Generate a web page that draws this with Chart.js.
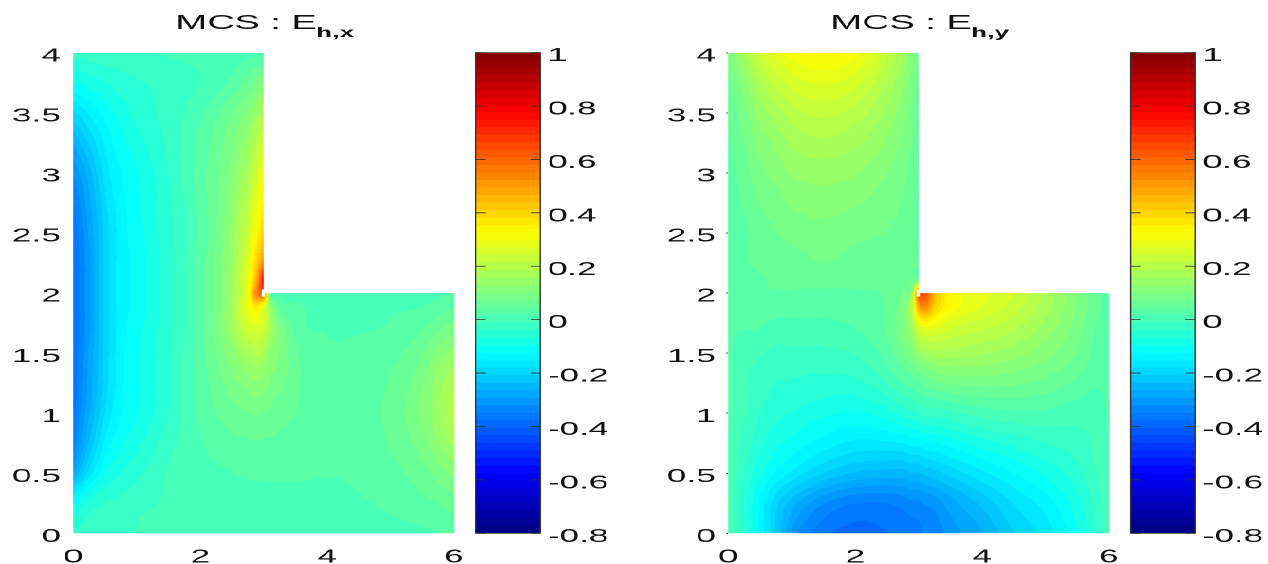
<!DOCTYPE html>
<html>
<head>
<meta charset="utf-8">
<script src="https://cdn.jsdelivr.net/npm/chart.js@4"></script>
<style>
  html, body { margin: 0; padding: 0; background: #fff; overflow: hidden; width: 1268px; height: 564px; }
  /* reference is stretched sideways, text included */
  #page { position: absolute; left: 0; top: 0; width: 668px; height: 564px; transform-origin: 0 0; transform: scale(1.8982, 1); }
  canvas { position: absolute; top: 0; }
</style>
</head>
<body>
<div id="page">
  <canvas id="ex-field" width="323" height="564" style="left:0"></canvas>
  <canvas id="ex-bar" width="323" height="564" style="left:0"></canvas>
  <canvas id="ey-field" width="323" height="564" style="left:345px"></canvas>
  <canvas id="ey-bar" width="323" height="564" style="left:345px"></canvas>
</div>
<script>
const xNodes = [0, 0.25, 0.5, 0.75, 1, 1.5, 2, 2.5, 2.75, 2.9, 3, 3.1, 3.25, 3.5, 4, 4.5, 5, 5.5, 5.75, 6];
const yNodes = [4, 3.75, 3.5, 3, 2.5, 2.25, 2.1, 2, 1.9, 1.75, 1.5, 1, 0.5, 0.25, 0];

// values, rows follow yNodes (rows above y=2 stop at x=3)
const exRows = [
  [-0.03, -0.025, -0.02, -0.02, -0.015, -0.01, -0.005, 0, 0.005, 0.008, 0.01],
  [-0.1, -0.085, -0.07, -0.055, -0.045, -0.03, -0.012, 0.025, 0.055, 0.085, 0.11],
  [-0.19, -0.15, -0.115, -0.085, -0.06, -0.03, 0.01, 0.07, 0.11, 0.15, 0.18],
  [-0.32, -0.25, -0.17, -0.125, -0.1, -0.04, 0.03, 0.11, 0.18, 0.25, 0.31],
  [-0.37, -0.29, -0.2, -0.14, -0.11, -0.05, 0.02, 0.14, 0.24, 0.34, 0.42],
  [-0.38, -0.3, -0.2, -0.14, -0.115, -0.05, 0.03, 0.15, 0.27, 0.42, 0.55],
  [-0.38, -0.3, -0.2, -0.14, -0.115, -0.05, 0.03, 0.16, 0.3, 0.5, 0.78],
  [-0.38, -0.3, -0.2, -0.14, -0.115, -0.05, 0.03, 0.16, 0.3, 0.55, 0.6, 0.04, 0.01, 0, -0.005, -0.005, 0, 0.005, 0.01, 0.015],
  [-0.38, -0.3, -0.2, -0.14, -0.115, -0.05, 0.03, 0.16, 0.3, 0.38, 0.3, 0.14, 0.04, 0.02, 0.008, 0.008, 0.012, 0.014, 0.025, 0.04],
  [-0.38, -0.3, -0.2, -0.14, -0.11, -0.05, 0.03, 0.16, 0.26, 0.28, 0.25, 0.17, 0.09, 0.032, 0.012, 0.012, 0.017, 0.035, 0.055, 0.08],
  [-0.37, -0.29, -0.2, -0.135, -0.105, -0.045, 0.03, 0.12, 0.17, 0.19, 0.17, 0.13, 0.1, 0.05, 0.022, 0.022, 0.035, 0.07, 0.11, 0.14],
  [-0.36, -0.27, -0.18, -0.125, -0.1, -0.04, 0.02, 0.06, 0.07, 0.075, 0.07, 0.065, 0.055, 0.044, 0.03, 0.032, 0.052, 0.105, 0.15, 0.2],
  [-0.27, -0.17, -0.1, -0.07, -0.05, -0.01, 0.005, 0.015, 0.02, 0.02, 0.02, 0.02, 0.02, 0.02, 0.017, 0.02, 0.035, 0.06, 0.085, 0.11],
  [-0.11, -0.06, -0.04, -0.03, -0.02, -0.01, -0.005, 0.003, 0.004, 0.005, 0.005, 0.005, 0.005, 0.005, 0.006, 0.012, 0.022, 0.035, 0.045, 0.06],
  [-0.03, -0.02, -0.02, -0.02, -0.01, -0.01, -0.005, -0.005, -0.005, -0.005, -0.005, -0.005, -0.005, -0.005, -0.005, -0.005, 0.005, 0.01, 0.015, 0.02],
];

const eyRows = [
  [0.1, 0.17, 0.24, 0.28, 0.31, 0.33, 0.31, 0.22, 0.16, 0.11, 0.08],
  [0.06, 0.12, 0.18, 0.22, 0.25, 0.27, 0.25, 0.18, 0.13, 0.09, 0.06],
  [0.05, 0.09, 0.14, 0.17, 0.2, 0.22, 0.2, 0.15, 0.11, 0.08, 0.05],
  [0.03, 0.06, 0.09, 0.11, 0.13, 0.14, 0.13, 0.1, 0.08, 0.06, 0.04],
  [0.03, 0.04, 0.06, 0.07, 0.08, 0.09, 0.08, 0.07, 0.06, 0.05, 0.04],
  [0.03, 0.04, 0.05, 0.06, 0.06, 0.07, 0.06, 0.05, 0.05, 0.05, 0.05],
  [0.03, 0.035, 0.04, 0.05, 0.05, 0.05, 0.05, 0.05, 0.055, 0.07, 0.1],
  [0.03, 0.03, 0.04, 0.04, 0.04, 0.04, 0.04, 0.05, 0.08, 0.16, 0.6, 0.65, 0.45, 0.33, 0.28, 0.24, 0.18, 0.1, 0.06, 0.03],
  [0.03, 0.03, 0.03, 0.03, 0.03, 0.03, 0.03, 0.05, 0.1, 0.22, 0.5, 0.55, 0.42, 0.33, 0.27, 0.23, 0.17, 0.1, 0.06, 0.03],
  [0.02, 0.02, 0.02, 0.01, 0.01, 0.01, 0.02, 0.05, 0.1, 0.17, 0.3, 0.33, 0.3, 0.26, 0.23, 0.2, 0.15, 0.09, 0.05, 0.03],
  [0.02, 0, -0.01, -0.02, -0.02, -0.02, -0.01, 0.03, 0.07, 0.1, 0.14, 0.16, 0.17, 0.17, 0.16, 0.14, 0.11, 0.07, 0.04, 0.02],
  [0.02, -0.01, -0.04, -0.06, -0.07, -0.09, -0.1, -0.08, -0.06, -0.05, -0.04, -0.03, -0.03, -0.02, 0, 0.01, 0.01, 0, 0, 0.02],
  [0.01, -0.04, -0.09, -0.13, -0.16, -0.21, -0.24, -0.25, -0.25, -0.24, -0.24, -0.23, -0.22, -0.2, -0.16, -0.125, -0.09, -0.05, -0.02, 0.01],
  [0.01, -0.06, -0.13, -0.2, -0.25, -0.32, -0.35, -0.35, -0.34, -0.33, -0.33, -0.32, -0.31, -0.28, -0.23, -0.18, -0.14, -0.08, -0.04, 0.01],
  [0.01, -0.05, -0.13, -0.21, -0.3, -0.37, -0.39, -0.38, -0.37, -0.365, -0.36, -0.35, -0.34, -0.31, -0.27, -0.21, -0.17, -0.1, -0.05, 0.01],
];

// L-shaped domain with the small white notch at the re-entrant corner
const domainX = [0, 6, 6, 3.02, 3.02, 2.97, 2.97, 3, 3, 0];
const domainY = [0, 0, 2, 2, 1.97, 1.97, 2.03, 2.03, 4, 4];

const xTicks = [0, 2, 4, 6];
const yTicks = [0, 0.5, 1, 1.5, 2, 2.5, 3, 3.5, 4];
const barTicks = [-0.8, -0.6, -0.4, -0.2, 0, 0.2, 0.4, 0.6, 0.8, 1];
const valueMin = -0.8;
const valueMax = 1;
const levels = 64;

const font = "'Liberation Sans', Arial, sans-serif";

function jet(i) {
  const t = (i + 0.5) / levels;
  const c = (d) => Math.round(255 * Math.max(0, Math.min(1, 1.5 - Math.abs(4 * t - d))));
  return [c(3), c(2), c(1)];
}

// cubic hermite between knots k[i], k[i+1]; get(n) may give undefined past the L edge
function hermite(k, get, i, t) {
  const f0 = get(i),
    f1 = get(i + 1);
  if (f0 === undefined || f1 === undefined) return undefined;
  const h = k[i + 1] - k[i],
    s = (f1 - f0) / h,
    fp = get(i - 1),
    fn = get(i + 2);
  let d0 = s,
    d1 = s;
  if (fp !== undefined) {
    const hp = k[i] - k[i - 1];
    d0 = (h * (f0 - fp) / hp + hp * s) / (h + hp);
  }
  if (fn !== undefined) {
    const hn = k[i + 2] - k[i + 1];
    d1 = (hn * s + h * (fn - f1) / hn) / (h + hn);
  }
  const u = t,
    u2 = u * u,
    u3 = u2 * u;
  const val =
    (2 * u3 - 3 * u2 + 1) * f0 +
    (u3 - 2 * u2 + u) * h * d0 +
    (-2 * u3 + 3 * u2) * f1 +
    (u3 - u2) * h * d1;
  // stop overshoot next to the corner spike
  const lo = Math.min(f0, f1) - 0.015,
    hi = Math.max(f0, f1) + 0.015;
  return Math.max(lo, Math.min(hi, val));
}

function valueAt(rows, x, y) {
  let i = 0;
  while (i < xNodes.length - 2 && xNodes[i + 1] < x) i++;
  let j = 0;
  while (j < yNodes.length - 2 && yNodes[j + 1] > y) j++;
  const u = (x - xNodes[i]) / (xNodes[i + 1] - xNodes[i]),
    v = (yNodes[j] - y) / (yNodes[j] - yNodes[j + 1]);
  const rowAt = (n) => {
    if (!rows[n]) return undefined;
    return hermite(xNodes, (m) => rows[n][m], i, u);
  };
  // yNodes run downwards, so flip them to keep h positive
  const neg = yNodes.map((q) => -q);
  return hermite(neg, rowAt, j, v);
}

// interpolated shading of the node values, like matlab's shading interp
const shadePlugin = {
  id: "shade",
  beforeDatasetsDraw(chart, args, opts) {
    const { ctx, chartArea: a, scales } = chart,
      ratio = chart.currentDevicePixelRatio,
      w = Math.ceil((a.right - a.left) * ratio),
      h = Math.ceil((a.bottom - a.top) * ratio),
      off = document.createElement("canvas");
    off.width = w;
    off.height = h;
    const octx = off.getContext("2d"),
      img = octx.createImageData(w, h);
    for (let py = 0; py < h; py++) {
      const y = scales.y.getValueForPixel(a.top + (py + 0.5) / ratio);
      for (let px = 0; px < w; px++) {
        const x = scales.x.getValueForPixel(a.left + (px + 0.5) / ratio),
          val = valueAt(opts.rows, x, y);
        if (val === undefined) continue;
        let idx = Math.floor(((val - valueMin) / (valueMax - valueMin)) * levels);
        idx = Math.max(0, Math.min(levels - 1, idx));
        const col = jet(idx),
          p = (py * w + px) * 4;
        img.data[p] = col[0];
        img.data[p + 1] = col[1];
        img.data[p + 2] = col[2];
        img.data[p + 3] = 255;
      }
    }
    octx.putImageData(img, 0, 0);
    ctx.save();
    ctx.beginPath();
    domainX.forEach((x, i) => {
      ctx.lineTo(scales.x.getPixelForValue(x), scales.y.getPixelForValue(domainY[i]));
    });
    ctx.closePath();
    ctx.clip();
    ctx.drawImage(off, a.left, a.top, w / ratio, h / ratio);
    ctx.restore();
  },
  afterDraw(chart, args, opts) {
    // title with the subscript, no way to do this in the title plugin
    const { ctx } = chart;
    ctx.save();
    ctx.fillStyle = "#111";
    ctx.textBaseline = "alphabetic";
    ctx.textAlign = "left";
    ctx.font = "20px " + font;
    ctx.fillText(opts.title, 92.5, 29);
    const tw = ctx.measureText(opts.title).width;
    ctx.font = "bold 14px " + font;
    ctx.fillText(opts.sub, 92.5 + tw - 0.5, 37);
    ctx.restore();
  },
};

const barFramePlugin = {
  id: "barFrame",
  afterDatasetsDraw(chart) {
    const { ctx, chartArea: a, scales } = chart;
    ctx.save();
    ctx.strokeStyle = "#333";
    ctx.lineWidth = 0.7;
    ctx.strokeRect(a.left, a.top, a.right - a.left, a.bottom - a.top);
    ctx.lineWidth = 0.8;
    barTicks.forEach((t) => {
      const py = scales.y.getPixelForValue(t);
      ctx.beginPath();
      ctx.moveTo(a.left, py);
      ctx.lineTo(a.left + 5, py);
      ctx.moveTo(a.right - 5, py);
      ctx.lineTo(a.right, py);
      ctx.stroke();
    });
    ctx.restore();
  },
};

function fieldChart(id, rows, sub, tickColor) {
  const points = [];
  rows.forEach((row, j) => {
    row.forEach((v, i) => points.push({ x: xNodes[i], y: yNodes[j], v: v }));
  });

  return new Chart(document.getElementById(id), {
    type: "scatter",
    data: { datasets: [{ data: points, pointRadius: 0, pointHoverRadius: 0 }] },
    plugins: [shadePlugin],
    options: {
      responsive: false,
      animation: false,
      devicePixelRatio: 2,
      layout: { padding: { left: 0, right: 83.8, top: 53, bottom: 0 } },
      plugins: {
        legend: { display: false },
        tooltip: { enabled: false },
        shade: { rows: rows, title: "MCS : E", sub: sub },
      },
      scales: {
        x: {
          type: "linear",
          min: 0,
          max: 6,
          afterBuildTicks: (s) => (s.ticks = xTicks.map((v) => ({ value: v }))),
          afterFit: (s) => (s.height = 30.7),
          border: { display: false },
          grid: { drawOnChartArea: false, drawTicks: false },
          ticks: { autoSkip: false, maxRotation: 0, padding: 13, color: "#111", font: { family: font, size: 18.5 } },
        },
        y: {
          type: "linear",
          min: 0,
          max: 4,
          afterBuildTicks: (s) => (s.ticks = yTicks.map((v) => ({ value: v }))),
          afterFit: (s) => (s.width = 38.6),
          border: { display: false },
          grid: { drawOnChartArea: false, tickLength: 1, tickColor: tickColor },
          ticks: {
            autoSkip: false,
            padding: 5.5,
            labelOffset: 3.5,
            color: "#111",
            font: { family: font, size: 18.5 },
            callback: (v) => String(v),
          },
        },
      },
    },
  });
}

function barChart(id) {
  const sets = [];
  for (let i = 0; i < levels; i++) {
    const c = jet(i);
    // every band starts at the bottom, the lower ones paint over it, so no seams
    sets.push({
      data: [[valueMin, valueMin + ((i + 1) * (valueMax - valueMin)) / levels]],
      backgroundColor: "rgb(" + c.join(",") + ")",
      borderWidth: 0,
      borderSkipped: false,
      barPercentage: 1,
      categoryPercentage: 1,
    });
  }

  return new Chart(document.getElementById(id), {
    type: "bar",
    data: { labels: [""], datasets: sets },
    plugins: [barFramePlugin],
    options: {
      responsive: false,
      animation: false,
      devicePixelRatio: 2,
      layout: { padding: { left: 250.8, right: 0, top: 52.6, bottom: 30.7 } },
      plugins: {
        legend: { display: false },
        tooltip: { enabled: false },
      },
      scales: {
        x: { display: false, stacked: true },
        y: {
          position: "right",
          min: valueMin,
          max: valueMax,
          afterBuildTicks: (s) => (s.ticks = barTicks.map((v) => ({ value: v }))),
          afterFit: (s) => (s.width = 38.4),
          border: { display: false },
          grid: { display: false, drawTicks: false },
          ticks: {
            autoSkip: false,
            padding: 4,
            labelOffset: 3.5,
            color: "#111",
            font: { family: font, size: 18.5 },
            callback: (v) => String(+v.toFixed(1)),
          },
        },
      },
    },
  });
}

fieldChart("ex-field", exRows, "h,x", "transparent");
barChart("ex-bar");
fieldChart("ey-field", eyRows, "h,y", "#444");
barChart("ey-bar");
</script>
</body>
</html>
